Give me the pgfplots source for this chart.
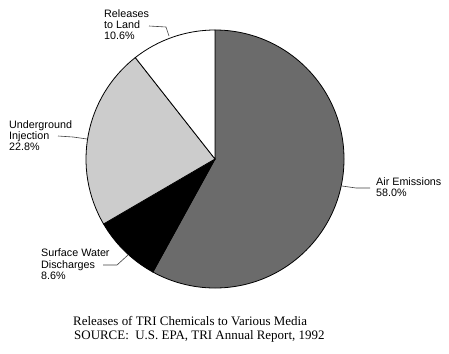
\documentclass[border=0pt]{standalone}
\usepackage{pgfplots}
\pgfplotsset{compat=1.18}
\usepackage{fontspec}
\setmainfont{Liberation Serif}
\newfontfamily\labelfont{Liberation Sans}
\definecolor{airgray}{gray}{0.42}
\definecolor{ugray}{gray}{0.80}
\begin{document}
\begin{tikzpicture}
% shares in percent
\def\vAir{58.0}
\def\vSurf{8.6}
\def\vUnder{22.8}
\def\vLand{10.6}
\pgfmathsetmacro{\aA}{90-\vAir*3.6}
\pgfmathsetmacro{\aB}{\aA-\vSurf*3.6}
\pgfmathsetmacro{\aC}{\aB-\vUnder*3.6}
\pgfmathsetmacro{\aD}{\aC-\vLand*3.6}
\begin{axis}[x=1bp,y=1bp,xmin=0,xmax=449,ymin=0,ymax=353,hide axis,clip=false]
\path (axis cs:0,0) rectangle (axis cs:449,353);
\filldraw[fill=airgray, draw=black, line width=0.8pt] (axis cs:215,194) -- ++(90:129bp) arc[start angle=90, end angle=\aA, radius=129bp] -- cycle;
\filldraw[fill=black, draw=black, line width=0.8pt] (axis cs:215,194) -- ++(\aA:129bp) arc[start angle=\aA, end angle=\aB, radius=129bp] -- cycle;
\filldraw[fill=ugray, draw=black, line width=0.8pt] (axis cs:215,194) -- ++(\aB:129bp) arc[start angle=\aB, end angle=\aC, radius=129bp] -- cycle;
\filldraw[fill=white, draw=black, line width=0.8pt] (axis cs:215,194) -- ++(\aC:129bp) arc[start angle=\aC, end angle=\aD, radius=129bp] -- cycle;
% leader lines
\draw[black!75, line width=0.6pt] (axis cs:149,327) -- (axis cs:166,326) -- (axis cs:169,317);
\draw[black!75, line width=0.6pt] (axis cs:58,217) -- (axis cs:73,216) -- (axis cs:87,214);
\draw[black!75, line width=0.6pt] (axis cs:342,167) -- (axis cs:356,165) -- (axis cs:370,165);
\draw[black!75, line width=0.6pt] (axis cs:103,88) -- (axis cs:117,88) -- (axis cs:128,98);
% labels
\tikzset{lab/.style={anchor=base west, inner sep=0pt, font=\labelfont\fontsize{10.8}{12}\selectfont}}
\node[lab] at (axis cs:104,336) {Releases};
\node[lab] at (axis cs:104,325) {to Land};
\node[lab] at (axis cs:104,314) {10.6\%};
\node[lab] at (axis cs:9,224.7) {Underground};
\node[lab] at (axis cs:9,213.7) {Injection};
\node[lab] at (axis cs:9,202.3) {22.8\%};
\node[lab] at (axis cs:376,167.7) {Air Emissions};
\node[lab] at (axis cs:376,156.3) {58.0\%};
\node[lab] at (axis cs:41,96.3) {Surface Water};
\node[lab] at (axis cs:41,84.7) {Discharges};
\node[lab] at (axis cs:41,73.7) {8.6\%};
\tikzset{ttl/.style={anchor=base west, inner sep=0pt, font=\fontsize{13}{14}\selectfont}}
\node[ttl] at (axis cs:73,28) {Releases of TRI Chemicals to Various Media};
\node[ttl] at (axis cs:74,14) {SOURCE:\ \ U.S. EPA, TRI Annual Report, 1992};
\end{axis}
\end{tikzpicture}
\end{document}
